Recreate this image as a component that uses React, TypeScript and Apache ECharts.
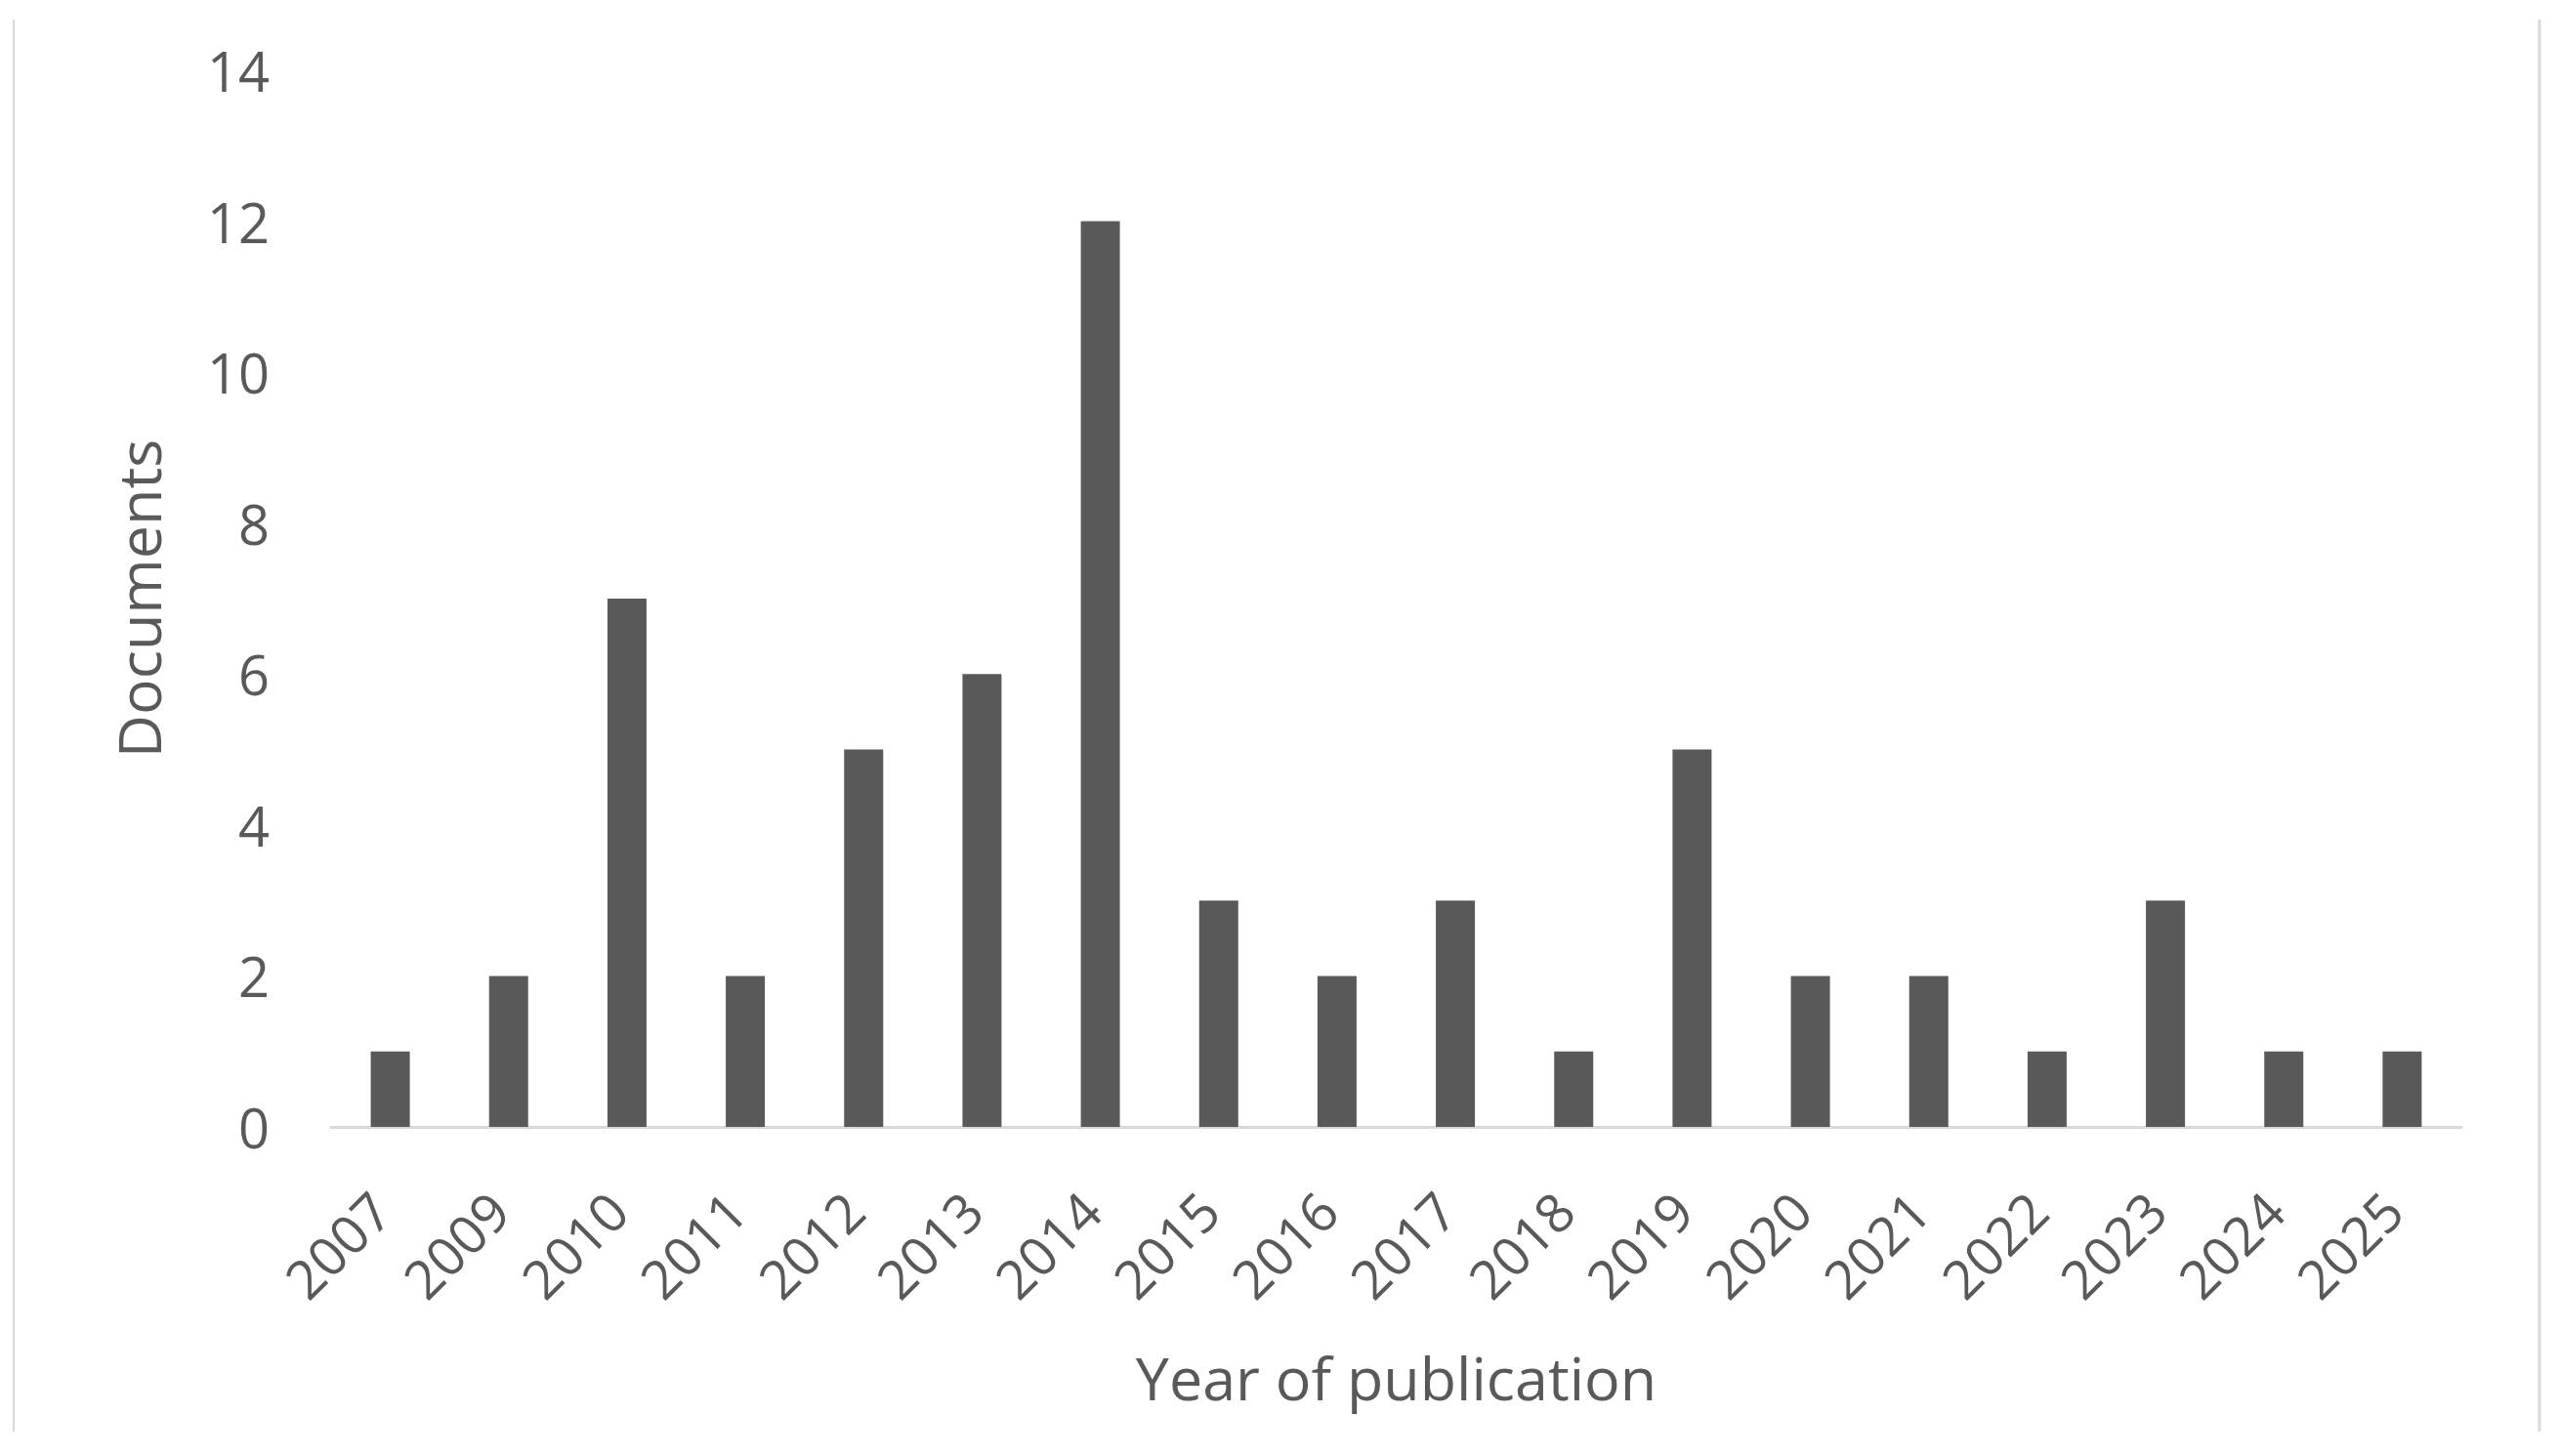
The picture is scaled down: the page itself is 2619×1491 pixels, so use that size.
import React, { useEffect, useRef } from "react";
import * as echarts from "echarts";

const years = ["2007", "2009", "2010", "2011", "2012", "2013", "2014", "2015", "2016", "2017", "2018", "2019", "2020", "2021", "2022", "2023", "2024", "2025"];
const documents = [1, 2, 7, 2, 5, 6, 12, 3, 2, 3, 1, 5, 2, 2, 1, 3, 1, 1];
const yTicks = { min: 0, max: 14, interval: 2 };
const xTitle = "Year of publication";
const yTitle = "Documents";

const FONT = "'Open Sans', 'Noto Sans', sans-serif";
const TEXT = "#595959";

export default function App() {
  const ref = useRef<HTMLDivElement>(null);
  useEffect(() => {
    if (!ref.current) return;
    const chart = echarts.init(ref.current, undefined, { renderer: "svg" });
    chart.setOption({
      animation: false,
      backgroundColor: "#ffffff",
      textStyle: { fontFamily: FONT },
      grid: { left: 339, right: 99, top: 72, bottom: 337, containLabel: false },
      xAxis: {
        type: "category",
        data: years,
        name: xTitle,
        nameLocation: "middle",
        nameGap: 226,
        nameTextStyle: { color: TEXT, fontSize: 61, fontFamily: FONT },
        axisLine: { show: true, lineStyle: { color: "#d9d9d9", width: 3 } },
        axisTick: { show: false },
        axisLabel: { color: TEXT, fontSize: 55, rotate: 45, margin: 66, interval: 0, fontFamily: FONT, padding: [0, 14, 0, 0] },
      },
      yAxis: {
        type: "value",
        min: yTicks.min,
        max: yTicks.max,
        interval: yTicks.interval,
        name: yTitle,
        nameLocation: "middle",
        nameRotate: 90,
        nameGap: 167,
        nameTextStyle: { color: TEXT, fontSize: 61, fontFamily: FONT },
        axisLine: { show: false },
        axisTick: { show: false },
        splitLine: { show: false },
        axisLabel: { color: TEXT, fontSize: 56, margin: 63, fontFamily: FONT },
      },
      series: [
        {
          type: "bar",
          data: documents,
          barWidth: 40,
          itemStyle: { color: "#595959" },
        },
      ],
      graphic: [
        { type: "line", shape: { x1: 14, y1: 20, x2: 14, y2: 1466 }, style: { stroke: "#d9d9d9", lineWidth: 2 } },
        { type: "line", shape: { x1: 2600, y1: 20, x2: 2600, y2: 1466 }, style: { stroke: "#d9d9d9", lineWidth: 3 } },
      ],
    });
    return () => chart.dispose();
  }, []);
  return <div ref={ref} style={{ position: "fixed", left: 0, top: 0, width: 2619, height: 1491 }} />;
}
